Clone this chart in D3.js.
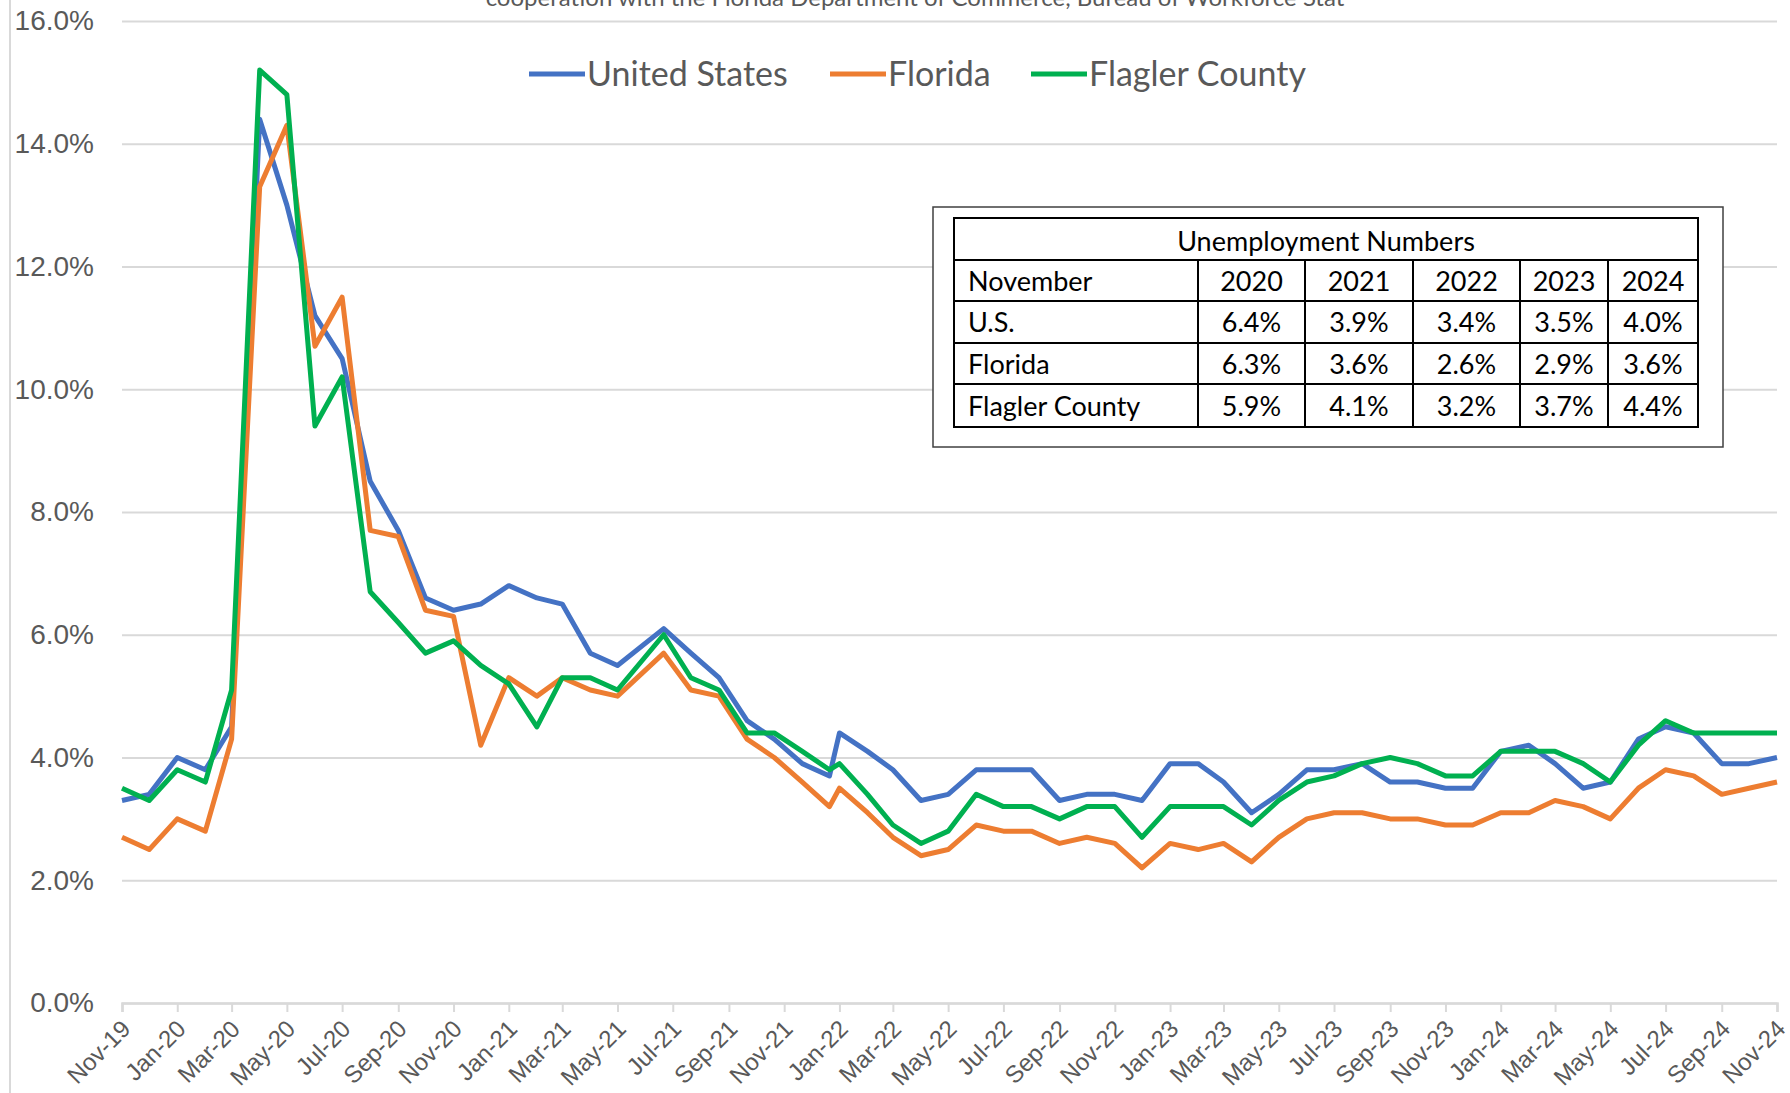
<!DOCTYPE html>
<html>
<head>
<meta charset="utf-8">
<script src="https://cdn.jsdelivr.net/npm/d3@7"></script>
<style>
  body { margin: 0; background: #fff; }
  svg { display: block; font-family: Lato, 'Open Sans', sans-serif; }
</style>
</head>
<body>
<div id="chart"></div>
<script>
// month of each reading (Jun-Dec 2021 were dated the 21st in the source sheet)
const months = [
  '2019-11-01', '2019-12-01',
  '2020-01-01', '2020-02-01', '2020-03-01', '2020-04-01', '2020-05-01', '2020-06-01',
  '2020-07-01', '2020-08-01', '2020-09-01', '2020-10-01', '2020-11-01', '2020-12-01',
  '2021-01-01', '2021-02-01', '2021-03-01', '2021-04-01', '2021-05-01', '2021-06-21',
  '2021-07-21', '2021-08-21', '2021-09-21', '2021-10-21', '2021-11-21', '2021-12-21',
  '2022-01-01', '2022-02-01', '2022-03-01', '2022-04-01', '2022-05-01', '2022-06-01',
  '2022-07-01', '2022-08-01', '2022-09-01', '2022-10-01', '2022-11-01', '2022-12-01',
  '2023-01-01', '2023-02-01', '2023-03-01', '2023-04-01', '2023-05-01', '2023-06-01',
  '2023-07-01', '2023-08-01', '2023-09-01', '2023-10-01', '2023-11-01', '2023-12-01',
  '2024-01-01', '2024-02-01', '2024-03-01', '2024-04-01', '2024-05-01', '2024-06-01',
  '2024-07-01', '2024-08-01', '2024-09-01', '2024-10-01', '2024-11-01'
];

const usRate = [
  3.3, 3.4, 4.0, 3.8, 4.5, 14.4, 13.0, 11.2, 10.5, 8.5, 7.7, 6.6, 6.4, 6.5,
  6.8, 6.6, 6.5, 5.7, 5.5, 6.1, 5.7, 5.3, 4.6, 4.3, 3.9, 3.7,
  4.4, 4.1, 3.8, 3.3, 3.4, 3.8, 3.8, 3.8, 3.3, 3.4, 3.4, 3.3,
  3.9, 3.9, 3.6, 3.1, 3.4, 3.8, 3.8, 3.9, 3.6, 3.6, 3.5, 3.5,
  4.1, 4.2, 3.9, 3.5, 3.6, 4.3, 4.5, 4.4, 3.9, 3.9, 4.0
];
const floridaRate = [
  2.7, 2.5, 3.0, 2.8, 4.3, 13.3, 14.3, 10.7, 11.5, 7.7, 7.6, 6.4, 6.3, 4.2,
  5.3, 5.0, 5.3, 5.1, 5.0, 5.7, 5.1, 5.0, 4.3, 4.0, 3.6, 3.2,
  3.5, 3.1, 2.7, 2.4, 2.5, 2.9, 2.8, 2.8, 2.6, 2.7, 2.6, 2.2,
  2.6, 2.5, 2.6, 2.3, 2.7, 3.0, 3.1, 3.1, 3.0, 3.0, 2.9, 2.9,
  3.1, 3.1, 3.3, 3.2, 3.0, 3.5, 3.8, 3.7, 3.4, 3.5, 3.6
];
const flaglerRate = [
  3.5, 3.3, 3.8, 3.6, 5.1, 15.2, 14.8, 9.4, 10.2, 6.7, 6.2, 5.7, 5.9, 5.5,
  5.2, 4.5, 5.3, 5.3, 5.1, 6.0, 5.3, 5.1, 4.4, 4.4, 4.1, 3.8,
  3.9, 3.4, 2.9, 2.6, 2.8, 3.4, 3.2, 3.2, 3.0, 3.2, 3.2, 2.7,
  3.2, 3.2, 3.2, 2.9, 3.3, 3.6, 3.7, 3.9, 4.0, 3.9, 3.7, 3.7,
  4.1, 4.1, 4.1, 3.9, 3.6, 4.2, 4.6, 4.4, 4.4, 4.4, 4.4
];

const seriesNames = ['United States', 'Florida', 'Flagler County'];
const yTicks = [0, 2, 4, 6, 8, 10, 12, 14, 16];

// November snapshot table
const tableTitle = 'Unemployment Numbers';
const tableYears = ['2020', '2021', '2022', '2023', '2024'];
const tableRowNames = ['U.S.', 'Florida', 'Flagler County'];
const usNovember = [6.4, 3.9, 3.4, 3.5, 4.0];
const floridaNovember = [6.3, 3.6, 2.6, 2.9, 3.6];
const flaglerNovember = [5.9, 4.1, 3.2, 3.7, 4.4];

const subtitle = 'cooperation with the Florida Department of Commerce, Bureau of Workforce Stat';

const width = 1790;
const height = 1093;
const margin = {top: 21, right: 13, bottom: 90, left: 122};
const colors = ['#4472C4', '#ED7D31', '#00B050'];
const gridColor = '#d9d9d9';
const labelColor = '#595959';

const parseDate = d3.timeParse('%Y-%m-%d');
const dates = months.map(parseDate);

const svg = d3.select('#chart')
    .append('svg')
    .attr('width', width)
    .attr('height', height);

const x = d3.scaleTime()
    .domain([dates[0], dates[dates.length - 1]])
    .range([margin.left, width - margin.right]);

const y = d3.scaleLinear()
    .domain([0, 16])
    .range([1003, margin.top]);

// faint border of the chart area
svg.append('line')
    .attr('x1', 10).attr('x2', 10)
    .attr('y1', 0).attr('y2', height)
    .attr('stroke', gridColor)
    .attr('stroke-width', 2);

// subtitle, clipped by the top edge as in the source image
svg.append('text')
    .attr('x', 915)
    .attr('y', 6)
    .attr('text-anchor', 'middle')
    .attr('fill', labelColor)
    .style('font-size', '24px')
    .text(subtitle);

// gridlines + y labels
const yAxis = svg.append('g')
    .attr('transform', 'translate(' + margin.left + ',0)')
    .call(d3.axisLeft(y)
        .tickValues(yTicks)
        .tickSize(-(width - margin.right - margin.left))
        .tickPadding(28)
        .tickFormat(function(d) {
          return d3.format('.1f')(d) + '%';
        }));
yAxis.select('.domain').remove();
yAxis.selectAll('.tick line')
    .attr('stroke', gridColor)
    .attr('stroke-width', 2);
yAxis.selectAll('.tick text')
    .attr('fill', labelColor)
    .style('font-size', '28px');

// x axis
const xAxis = svg.append('g')
    .attr('transform', 'translate(0,' + y(0) + ')')
    .call(d3.axisBottom(x)
        .ticks(d3.timeMonth.every(2))
        .tickSize(9)
        .tickFormat(d3.timeFormat('%b-%y')));
xAxis.select('.domain')
    .attr('stroke', gridColor)
    .attr('stroke-width', 2.5);
xAxis.selectAll('.tick line')
    .attr('stroke', gridColor)
    .attr('stroke-width', 2);
xAxis.selectAll('.tick text')
    .attr('fill', labelColor)
    .style('font-size', '24px')
    .attr('text-anchor', 'end')
    .attr('dy', '0.35em')
    .attr('transform', 'translate(-5,13) rotate(-45)');

// lines
const rates = [usRate, floridaRate, flaglerRate];
const line = d3.line()
    .x(function(d, i) {
      return x(dates[i]);
    })
    .y(function(d) {
      return y(d);
    });

svg.selectAll('.series')
    .data(rates)
    .enter()
    .append('path')
    .attr('class', 'series')
    .attr('fill', 'none')
    .attr('stroke', function(d, i) {
      return colors[i];
    })
    .attr('stroke-width', 5)
    .attr('stroke-linejoin', 'round')
    .attr('d', line);

// legend
const legendX = [529, 830, 1031];
const legend = svg.selectAll('.legend')
    .data(seriesNames)
    .enter()
    .append('g')
    .attr('class', 'legend')
    .attr('transform', function(d, i) {
      return 'translate(' + legendX[i] + ',74)';
    });
legend.append('line')
    .attr('x1', 0).attr('x2', 56)
    .attr('stroke', function(d, i) {
      return colors[i];
    })
    .attr('stroke-width', 5);
legend.append('text')
    .attr('x', 58)
    .attr('dy', '0.36em')
    .attr('fill', labelColor)
    .style('font-size', '34px')
    .text(function(d) {
      return d;
    });

// table box
svg.append('rect')
    .attr('x', 933).attr('y', 207)
    .attr('width', 790).attr('height', 240)
    .attr('fill', '#fff')
    .attr('stroke', '#404040')
    .attr('stroke-width', 1.5);

const colX = [954, 1198, 1305, 1413, 1520, 1608, 1698];
const rowY = [218, 260, 301, 343, 384, 427];
const table = svg.append('g')
    .attr('fill', 'none')
    .attr('stroke', '#000')
    .attr('stroke-width', 2);
table.append('rect')
    .attr('x', colX[0]).attr('y', rowY[0])
    .attr('width', colX[6] - colX[0])
    .attr('height', rowY[5] - rowY[0]);
rowY.slice(1, 5).forEach(function(ry) {
  table.append('line')
      .attr('x1', colX[0]).attr('x2', colX[6])
      .attr('y1', ry).attr('y2', ry);
});
colX.slice(1, 6).forEach(function(cx) {
  table.append('line')
      .attr('x1', cx).attr('x2', cx)
      .attr('y1', rowY[1]).attr('y2', rowY[5]);
});

const cellText = svg.append('g')
    .attr('fill', '#000')
    .style('font-size', '27px');
const rowMid = function(r) {
  return (rowY[r] + rowY[r + 1]) / 2;
};
const colMid = function(c) {
  return (colX[c] + colX[c + 1]) / 2;
};

cellText.append('text')
    .attr('x', (colX[0] + colX[6]) / 2)
    .attr('y', rowMid(0) + 3)
    .attr('dy', '0.35em')
    .attr('text-anchor', 'middle')
    .text(tableTitle);

const tableRows = [
  ['November'].concat(tableYears),
  [tableRowNames[0]].concat(usNovember.map(function(v) {
    return v.toFixed(1) + '%';
  })),
  [tableRowNames[1]].concat(floridaNovember.map(function(v) {
    return v.toFixed(1) + '%';
  })),
  [tableRowNames[2]].concat(flaglerNovember.map(function(v) {
    return v.toFixed(1) + '%';
  }))
];
tableRows.forEach(function(row, r) {
  row.forEach(function(cell, c) {
    cellText.append('text')
        .attr('x', c === 0 ? colX[0] + 14 : colMid(c))
        .attr('y', rowMid(r + 1) + 1)
        .attr('dy', '0.35em')
        .attr('text-anchor', c === 0 ? 'start' : 'middle')
        .text(cell);
  });
});
</script>
</body>
</html>
